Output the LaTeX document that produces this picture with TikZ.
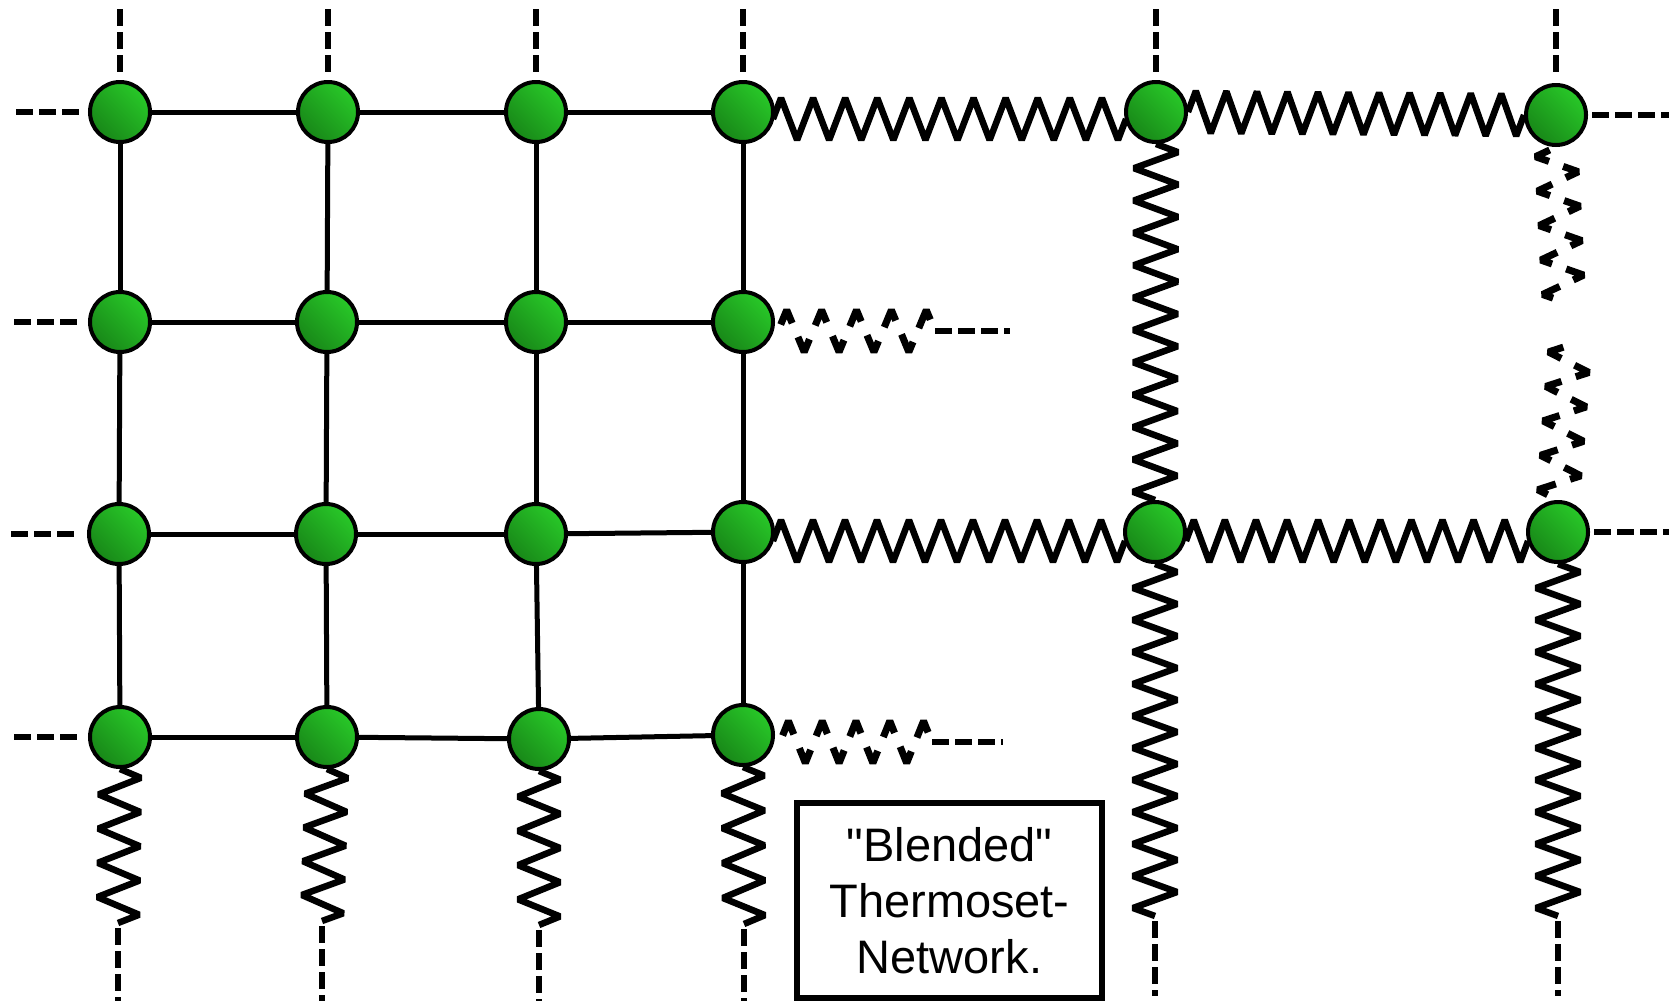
\documentclass[tikz,border=0pt]{standalone}
\usepackage{fontspec}
\setmainfont{Liberation Sans}
\usetikzlibrary{calc,backgrounds}
\definecolor{nlight}{RGB}{40,200,40}
\definecolor{ndark}{RGB}{24,135,24}
\tikzset{
  atom/.style={circle, draw=black, line width=4pt, minimum size=60pt, inner sep=0pt,
    top color=nlight, bottom color=ndark, shading angle=-45},
  bond/.style={line width=5pt},
  spring/.style={line width=6.5pt, line join=bevel},
  dspring/.style={spring, line width=7pt, dash pattern=on 30pt off 15pt, dash phase=38pt},
  loose/.style={line width=6pt, dash pattern=on 17pt off 6pt},
  labelbox/.style={draw, line width=5.5pt, minimum width=305pt, minimum height=195pt,
    align=center, font=\fontsize{47}{56}\selectfont}
}
% zigzag spring between two named points: [opts]{from}{to}{vertices}{first offset}
\newcommand\spr[5][]{\draw[spring,#1] (#2) foreach \k in {1,...,#4} { -- ($(#2)!{(\k-0.5)/#4}!(#3)!{#5*(2*mod(\k,2)-1)}!90:(#3)$) } -- (#3);}

\begin{document}
\begin{tikzpicture}[x=1pt,y=-1pt]
\useasboundingbox (0,0) rectangle (1669,1002);

% atoms
\node[atom] (n11) at (120,112) {};
\node[atom] (n12) at (328,112) {};
\node[atom] (n13) at (536,112) {};
\node[atom] (n14) at (743,112) {};
\node[atom] (n15) at (1156,112) {};
\node[atom] (n16) at (1556,115) {};
\node[atom] (n21) at (120,322) {};
\node[atom] (n22) at (327,322) {};
\node[atom] (n23) at (536,322) {};
\node[atom] (n24) at (743,322) {};
\node[atom] (n31) at (119,534) {};
\node[atom] (n32) at (326,534) {};
\node[atom] (n33) at (536,534) {};
\node[atom] (n34) at (743,532) {};
\node[atom] (n35) at (1155,532) {};
\node[atom] (n36) at (1558,532) {};
\node[atom] (n41) at (120,737) {};
\node[atom] (n42) at (327,737) {};
\node[atom] (n43) at (539,739) {};
\node[atom] (n44) at (743,735) {};

% label
\node[labelbox] (lbl) at (949.5,900.5) {\textquotedbl Blended\textquotedbl\\Thermoset-\\Network.};

% free ends
\coordinate (t1) at (120,9);  \coordinate (t2) at (328,9);  \coordinate (t3) at (536,9);
\coordinate (t4) at (743,9);  \coordinate (t5) at (1156,9); \coordinate (t6) at (1556,9);
\coordinate (l1) at (16,112); \coordinate (l2) at (14,322); \coordinate (l3) at (11,534); \coordinate (l4) at (14,737);
\coordinate (r1) at (1669,115); \coordinate (r3) at (1669,532);
\coordinate (p14) at (773,119); \coordinate (p15) at (1126,119);
\coordinate (p34) at (773,541); \coordinate (p35) at (1125,541);
\coordinate (q35) at (1186,541); \coordinate (q36) at (1528,541);
\coordinate (p24) at (778,331); \coordinate (cR2) at (935,331); \coordinate (e2) at (1010,331);
\coordinate (p44) at (780,742); \coordinate (cR4) at (932,742); \coordinate (e4) at (1003,742);
\coordinate (cA) at (1564,302); \coordinate (cB) at (1570,345);
\coordinate (sb1) at (118,923); \coordinate (sb2) at (322,921); \coordinate (sb3) at (539,925); \coordinate (sb4) at (744,924);
\coordinate (sb5) at (1155,916); \coordinate (sb6) at (1558,916);
\coordinate (bd1) at (118,1001); \coordinate (bd2) at (322,1001); \coordinate (bd3) at (539,1001); \coordinate (bd4) at (744,1001);
\coordinate (bd5) at (1155,996); \coordinate (bd6) at (1558,996);

\begin{scope}[on background layer]
% grid bonds
\foreach \r in {1,...,4} {\foreach \c/\d in {1/2,2/3,3/4} {\draw[bond] (n\r\c) -- (n\r\d);}}
\foreach \c in {1,...,4} {\foreach \r/\s in {1/2,2/3,3/4} {\draw[bond] (n\r\c) -- (n\s\c);}}
% loose dashed ends
\foreach \c in {1,...,6} {\draw[loose, shorten >=7pt] (t\c) -- (n1\c.north);}
\foreach \r in {1,...,4} {\draw[loose, shorten >=9pt] (l\r) -- (n\r1.west);}
\draw[loose, shorten <=4pt] (n16.east) -- (r1);
\draw[loose, shorten <=4pt] (n36.east) -- (r3);
% springs
\spr{p14}{p15}{22}{21pt}
\spr{n15.east}{n16.west}{22}{21pt}
\spr{p34}{p35}{22}{21pt}
\spr{q35}{q36}{22}{21pt}
\spr{n15.south}{n35.north}{22}{22pt}
\spr{n35.south}{sb5}{22}{22pt}
\spr{n36.south}{sb6}{22}{22pt}
\spr{n41.south}{sb1}{9}{21pt}
\spr{n42.south}{sb2}{9}{21pt}
\spr{n43.south}{sb3}{9}{21pt}
\spr{n44.south}{sb4}{9}{21pt}
% broken (dashed) springs
\spr[dspring]{p24}{cR2}{9}{21pt}
\spr[dspring]{p44}{cR4}{9}{21pt}
\spr[dspring]{n16.south}{cA}{9}{-21pt}
\spr[dspring]{cB}{n36.north}{9}{-21pt}
\draw[loose] (cR2) -- (e2);
\draw[loose] (cR4) -- (e4);
\foreach \c in {1,...,6} {\draw[loose, shorten <=5pt] (sb\c) -- (bd\c);}
\end{scope}
\end{tikzpicture}
\end{document}
